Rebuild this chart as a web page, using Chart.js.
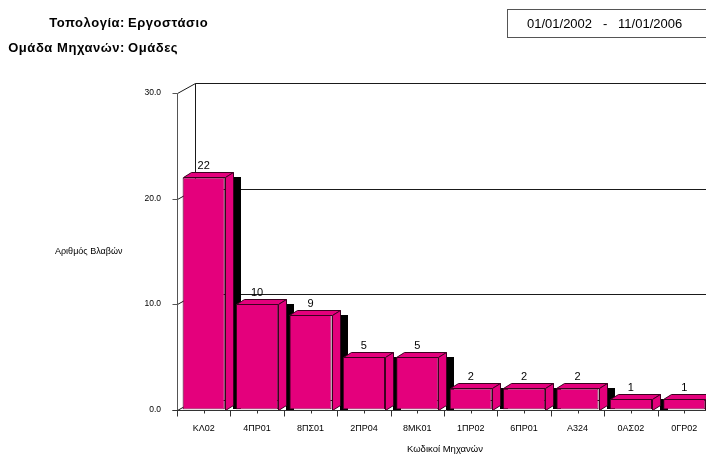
<!DOCTYPE html>
<html>
<head>
<meta charset="utf-8">
<script src="https://cdn.jsdelivr.net/npm/chart.js@4/dist/chart.umd.min.js"></script>
<style>
  html, body { margin: 0; padding: 0; background: #fff; overflow: hidden; }
  #wrap { position: relative; width: 706px; height: 455px; overflow: hidden; }
  #c { position: absolute; left: 0; top: 0; }
  .hdr { position: absolute; font-family: "Liberation Sans", Arial, sans-serif; font-weight: bold; font-size: 13px; color: #000; white-space: pre; letter-spacing: 0.55px; }
  .lbl { text-align: right; width: 125px; left: 0; }
  .val { left: 128px; }
  #dates { position: absolute; left: 507px; top: 9px; width: 220px; height: 29px; border: 1px solid #555; box-sizing: border-box;
           font-family: "Liberation Sans", Arial, sans-serif; font-size: 13px; color: #000; white-space: pre; line-height: 27px; padding-left: 19px; }
</style>
</head>
<body>
<div id="wrap">
  <canvas id="c" width="720" height="455"></canvas>
  <div class="hdr lbl" style="top:15px">Τοπολογία:</div>
  <div class="hdr val" style="top:15px">Εργοστάσιο</div>
  <div class="hdr lbl" style="top:40px">Ομάδα Μηχανών:</div>
  <div class="hdr val" style="top:40px">Ομάδες</div>
  <div id="dates">01/01/2002   -   11/01/2006</div>
</div>
<script>
// Machine codes and number of failures per machine
const machineCodes = ['ΚΛ02', '4ΠΡ01', '8ΠΣ01', '2ΠΡ04', '8ΜΚ01', '1ΠΡ02', '6ΠΡ01', 'Α324', '0ΑΣ02', '0ΓΡ02'];
const failureCounts = [22, 10, 9, 5, 5, 2, 2, 2, 1, 1];
const yTickValues = [0, 10, 20, 30];
const yTickLabels = ['0.0', '10.0', '20.0', '30.0'];
const yAxisTitle = 'Αριθμός Βλαβών';
const xAxisTitle = 'Κωδικοί Μηχανών';

const FONT = '"Liberation Sans", Arial, sans-serif';
const BAR_FILL = '#e4007c';
const BAR_EDGE = '#3d0020';
const WALL = { dx: 18, dy: -10 };   // back wall offset
const DEPTH = { dx: 8, dy: -5 };    // bar depth offset

function line(ctx, x1, y1, x2, y2) {
  ctx.beginPath();
  ctx.moveTo(x1 + 0.5, y1 + 0.5);
  ctx.lineTo(x2 + 0.5, y2 + 0.5);
  ctx.stroke();
}

function poly(ctx, pts) {
  ctx.beginPath();
  ctx.moveTo(pts[0][0], pts[0][1]);
  for (let i = 1; i < pts.length; i++) ctx.lineTo(pts[i][0], pts[i][1]);
  ctx.closePath();
  ctx.fill();
  ctx.stroke();
}

const frame3d = {
  id: 'frame3d',
  beforeDatasetsDraw(chart) {
    const { ctx, chartArea: a, scales: { x, y } } = chart;
    const W = chart.width;
    ctx.save();
    ctx.lineWidth = 1;
    const yTop = y.getPixelForValue(30);
    const y0 = y.getPixelForValue(0);
    const bx = Math.round(a.left + WALL.dx);

    // back wall: grid lines and edge diagonals
    ctx.strokeStyle = '#1a1a1a';
    line(ctx, bx, Math.round(yTop + WALL.dy), bx, Math.round(y0 + WALL.dy));
    yTickValues.forEach(v => {
      const py = Math.round(y.getPixelForValue(v));
      line(ctx, a.left, py, bx, py + WALL.dy);
      line(ctx, bx, py + WALL.dy, W, py + WALL.dy);
    });

    // front value axis with ticks
    ctx.strokeStyle = '#555';
    line(ctx, a.left, Math.round(yTop), a.left, Math.round(y0));
    yTickValues.forEach(v => {
      const py = Math.round(y.getPixelForValue(v));
      line(ctx, a.left - 5, py, a.left, py);
    });

    // shadows behind each bar
    const meta = chart.getDatasetMeta(0);
    ctx.fillStyle = '#000';
    meta.data.forEach(bar => {
      const r = bar.x + bar.width / 2;
      ctx.fillRect(Math.round(r + DEPTH.dx), Math.round(bar.y), 8, Math.round(bar.base - bar.y));
    });
    ctx.restore();
  },
  afterDatasetsDraw(chart) {
    const { ctx, chartArea: a, scales: { x, y } } = chart;
    const W = chart.width;
    const meta = chart.getDatasetMeta(0);
    ctx.save();
    ctx.lineWidth = 1;
    ctx.fillStyle = BAR_FILL;
    ctx.strokeStyle = BAR_EDGE;
    meta.data.forEach(bar => {
      const l = Math.round(bar.x - bar.width / 2) + 0.5;
      const r = Math.round(bar.x + bar.width / 2) + 0.5;
      const t = Math.round(bar.y) + 0.5;
      const b = Math.round(bar.base) + 0.5;
      // top face
      poly(ctx, [[l, t], [r, t], [r + DEPTH.dx, t + DEPTH.dy], [l + DEPTH.dx, t + DEPTH.dy]]);
      // side face
      poly(ctx, [[r, t], [r + DEPTH.dx, t + DEPTH.dy], [r + DEPTH.dx, b + DEPTH.dy], [r, b]]);
    });

    // category axis with ticks
    const y0 = Math.round(y.getPixelForValue(0));
    const step = x.getPixelForValue(1) - x.getPixelForValue(0);
    ctx.strokeStyle = '#333';
    line(ctx, a.left - 5, y0, W, y0);
    const n = machineCodes.length;
    for (let i = 0; i <= n; i++) {
      const px = Math.round(x.getPixelForValue(0) - step / 2 + i * step);
      line(ctx, px, y0, px, y0 + 6);
      if (i < n) line(ctx, Math.round(x.getPixelForValue(i)), y0, Math.round(x.getPixelForValue(i)), y0 + 3);
    }

    // value labels above bars
    ctx.fillStyle = '#000';
    ctx.textAlign = 'center';
    ctx.textBaseline = 'middle';
    ctx.font = '11px ' + FONT;
    meta.data.forEach((bar, i) => {
      ctx.fillText(String(failureCounts[i]), bar.x, bar.y - 11);
    });

    // category labels
    ctx.font = '9px ' + FONT;
    machineCodes.forEach((code, i) => {
      ctx.fillText(code, x.getPixelForValue(i), y0 + 19);
    });

    // value tick labels
    ctx.textAlign = 'right';
    ctx.font = '8.5px ' + FONT;
    yTickValues.forEach((v, i) => {
      ctx.fillText(yTickLabels[i], a.left - 16, y.getPixelForValue(v));
    });

    // axis titles
    ctx.textAlign = 'left';
    ctx.font = '9px ' + FONT;
    ctx.fillText(yAxisTitle, 55, 252);
    ctx.textAlign = 'center';
    ctx.font = '9.5px ' + FONT;
    ctx.fillText(xAxisTitle, 445, 449);
    ctx.restore();
  }
};

new Chart(document.getElementById('c'), {
  type: 'bar',
  data: {
    labels: machineCodes,
    datasets: [{
      data: failureCounts,
      backgroundColor: BAR_FILL,
      borderColor: BAR_EDGE,
      borderWidth: 1,
      borderSkipped: false,
      categoryPercentage: 1,
      barPercentage: 0.79
    }]
  },
  options: {
    responsive: false,
    devicePixelRatio: 1,
    animation: false,
    events: [],
    layout: { padding: { left: 177, right: 9, top: 93, bottom: 45.5 } },
    plugins: { legend: { display: false }, tooltip: { enabled: false }, title: { display: false } },
    scales: {
      x: { display: false, offset: true },
      y: { display: false, min: 0, max: 30 }
    }
  },
  plugins: [frame3d]
});
</script>
</body>
</html>
